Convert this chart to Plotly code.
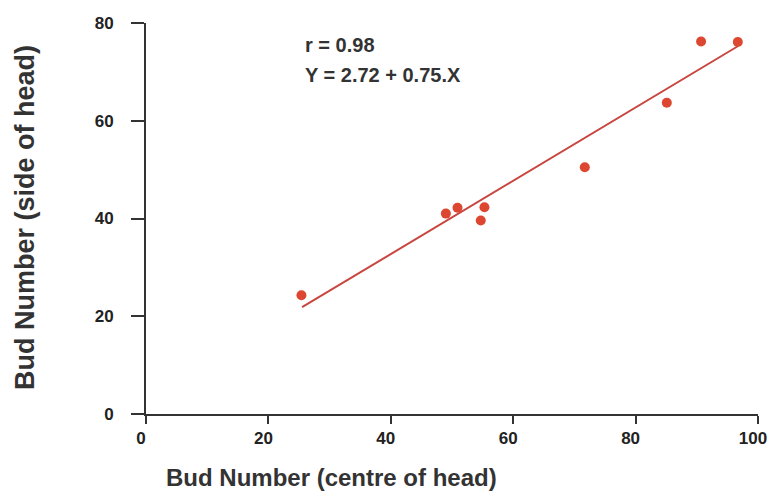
import plotly.graph_objects as go

# Data
centre_buds = [25.4, 49.0, 50.9, 55.3, 54.7, 71.7, 85.1, 90.7, 96.7]
side_buds = [24.3, 41.0, 42.2, 42.3, 39.6, 50.5, 63.7, 76.2, 76.1]

fit_intercept = 2.72
fit_slope = 0.75
fit_x = [25.5, 96.7]
fit_y = [fit_intercept + fit_slope * v for v in fit_x]

x_ticks = [0, 20, 40, 60, 80, 100]
y_ticks = [0, 20, 40, 60, 80]

font_family = "Liberation Sans, Arial, sans-serif"
axis_color = "#333333"

L, R = 146, 758
T, B = 23, 414

fig = go.Figure()
fig.add_trace(go.Scatter(
    x=fit_x, y=fit_y, mode="lines",
    line=dict(color="#c8463f", width=2),
    hoverinfo="skip", showlegend=False,
))
fig.add_trace(go.Scatter(
    x=centre_buds, y=side_buds, mode="markers",
    marker=dict(color="#dd4630", size=10, line=dict(width=0)),
    showlegend=False,
))

fig.update_xaxes(
    range=[0, 100], tickvals=x_ticks, showgrid=False, zeroline=False,
    showline=True, linecolor=axis_color, linewidth=2,
    ticks="outside", ticklen=8, tickwidth=2, tickcolor=axis_color,
    ticklabeloverflow="allow", ticklabelshift=-5, automargin=False,
    tickfont=dict(family=font_family, size=17, color="#222222", weight="bold"),
)
fig.update_yaxes(
    range=[0, 80], tickvals=y_ticks, showgrid=False, zeroline=False,
    showline=True, linecolor=axis_color, linewidth=2,
    ticks="outside", ticklen=13, tickwidth=2, tickcolor=axis_color,
    ticklabelstandoff=14, automargin=False,
    tickfont=dict(family=font_family, size=17, color="#222222", weight="bold"),
)

fig.add_annotation(
    text="<b>Bud Number (centre of head)</b>",
    xref="paper", yref="paper",
    x=(331 - L) / (R - L), y=-(477 - B) / (B - T),
    xanchor="center", yanchor="middle", showarrow=False,
    font=dict(family=font_family, size=24, color="#333333"),
)
fig.add_annotation(
    text="<b>Bud Number (side of head)</b>",
    xref="paper", yref="paper",
    x=-(L - 25) / (R - L), y=(B - 218) / (B - T),
    xanchor="center", yanchor="middle", textangle=-90, showarrow=False,
    font=dict(family=font_family, size=27, color="#333333"),
)
fig.add_annotation(
    text="<b>r = 0.98</b>",
    xref="paper", yref="paper",
    x=(303 - L) / (R - L), y=(B - 45) / (B - T),
    xanchor="left", yanchor="middle", showarrow=False,
    font=dict(family=font_family, size=20, color="#333333"),
)
fig.add_annotation(
    text="<b>Y = 2.72 + 0.75.X</b>",
    xref="paper", yref="paper",
    x=(303 - L) / (R - L), y=(B - 75) / (B - T),
    xanchor="left", yanchor="middle", showarrow=False,
    font=dict(family=font_family, size=20, color="#333333"),
)

fig.update_layout(
    width=769, height=493,
    margin=dict(l=L, r=769 - R, t=T, b=493 - B),
    paper_bgcolor="white", plot_bgcolor="white",
)

fig.write_html("out.html")
